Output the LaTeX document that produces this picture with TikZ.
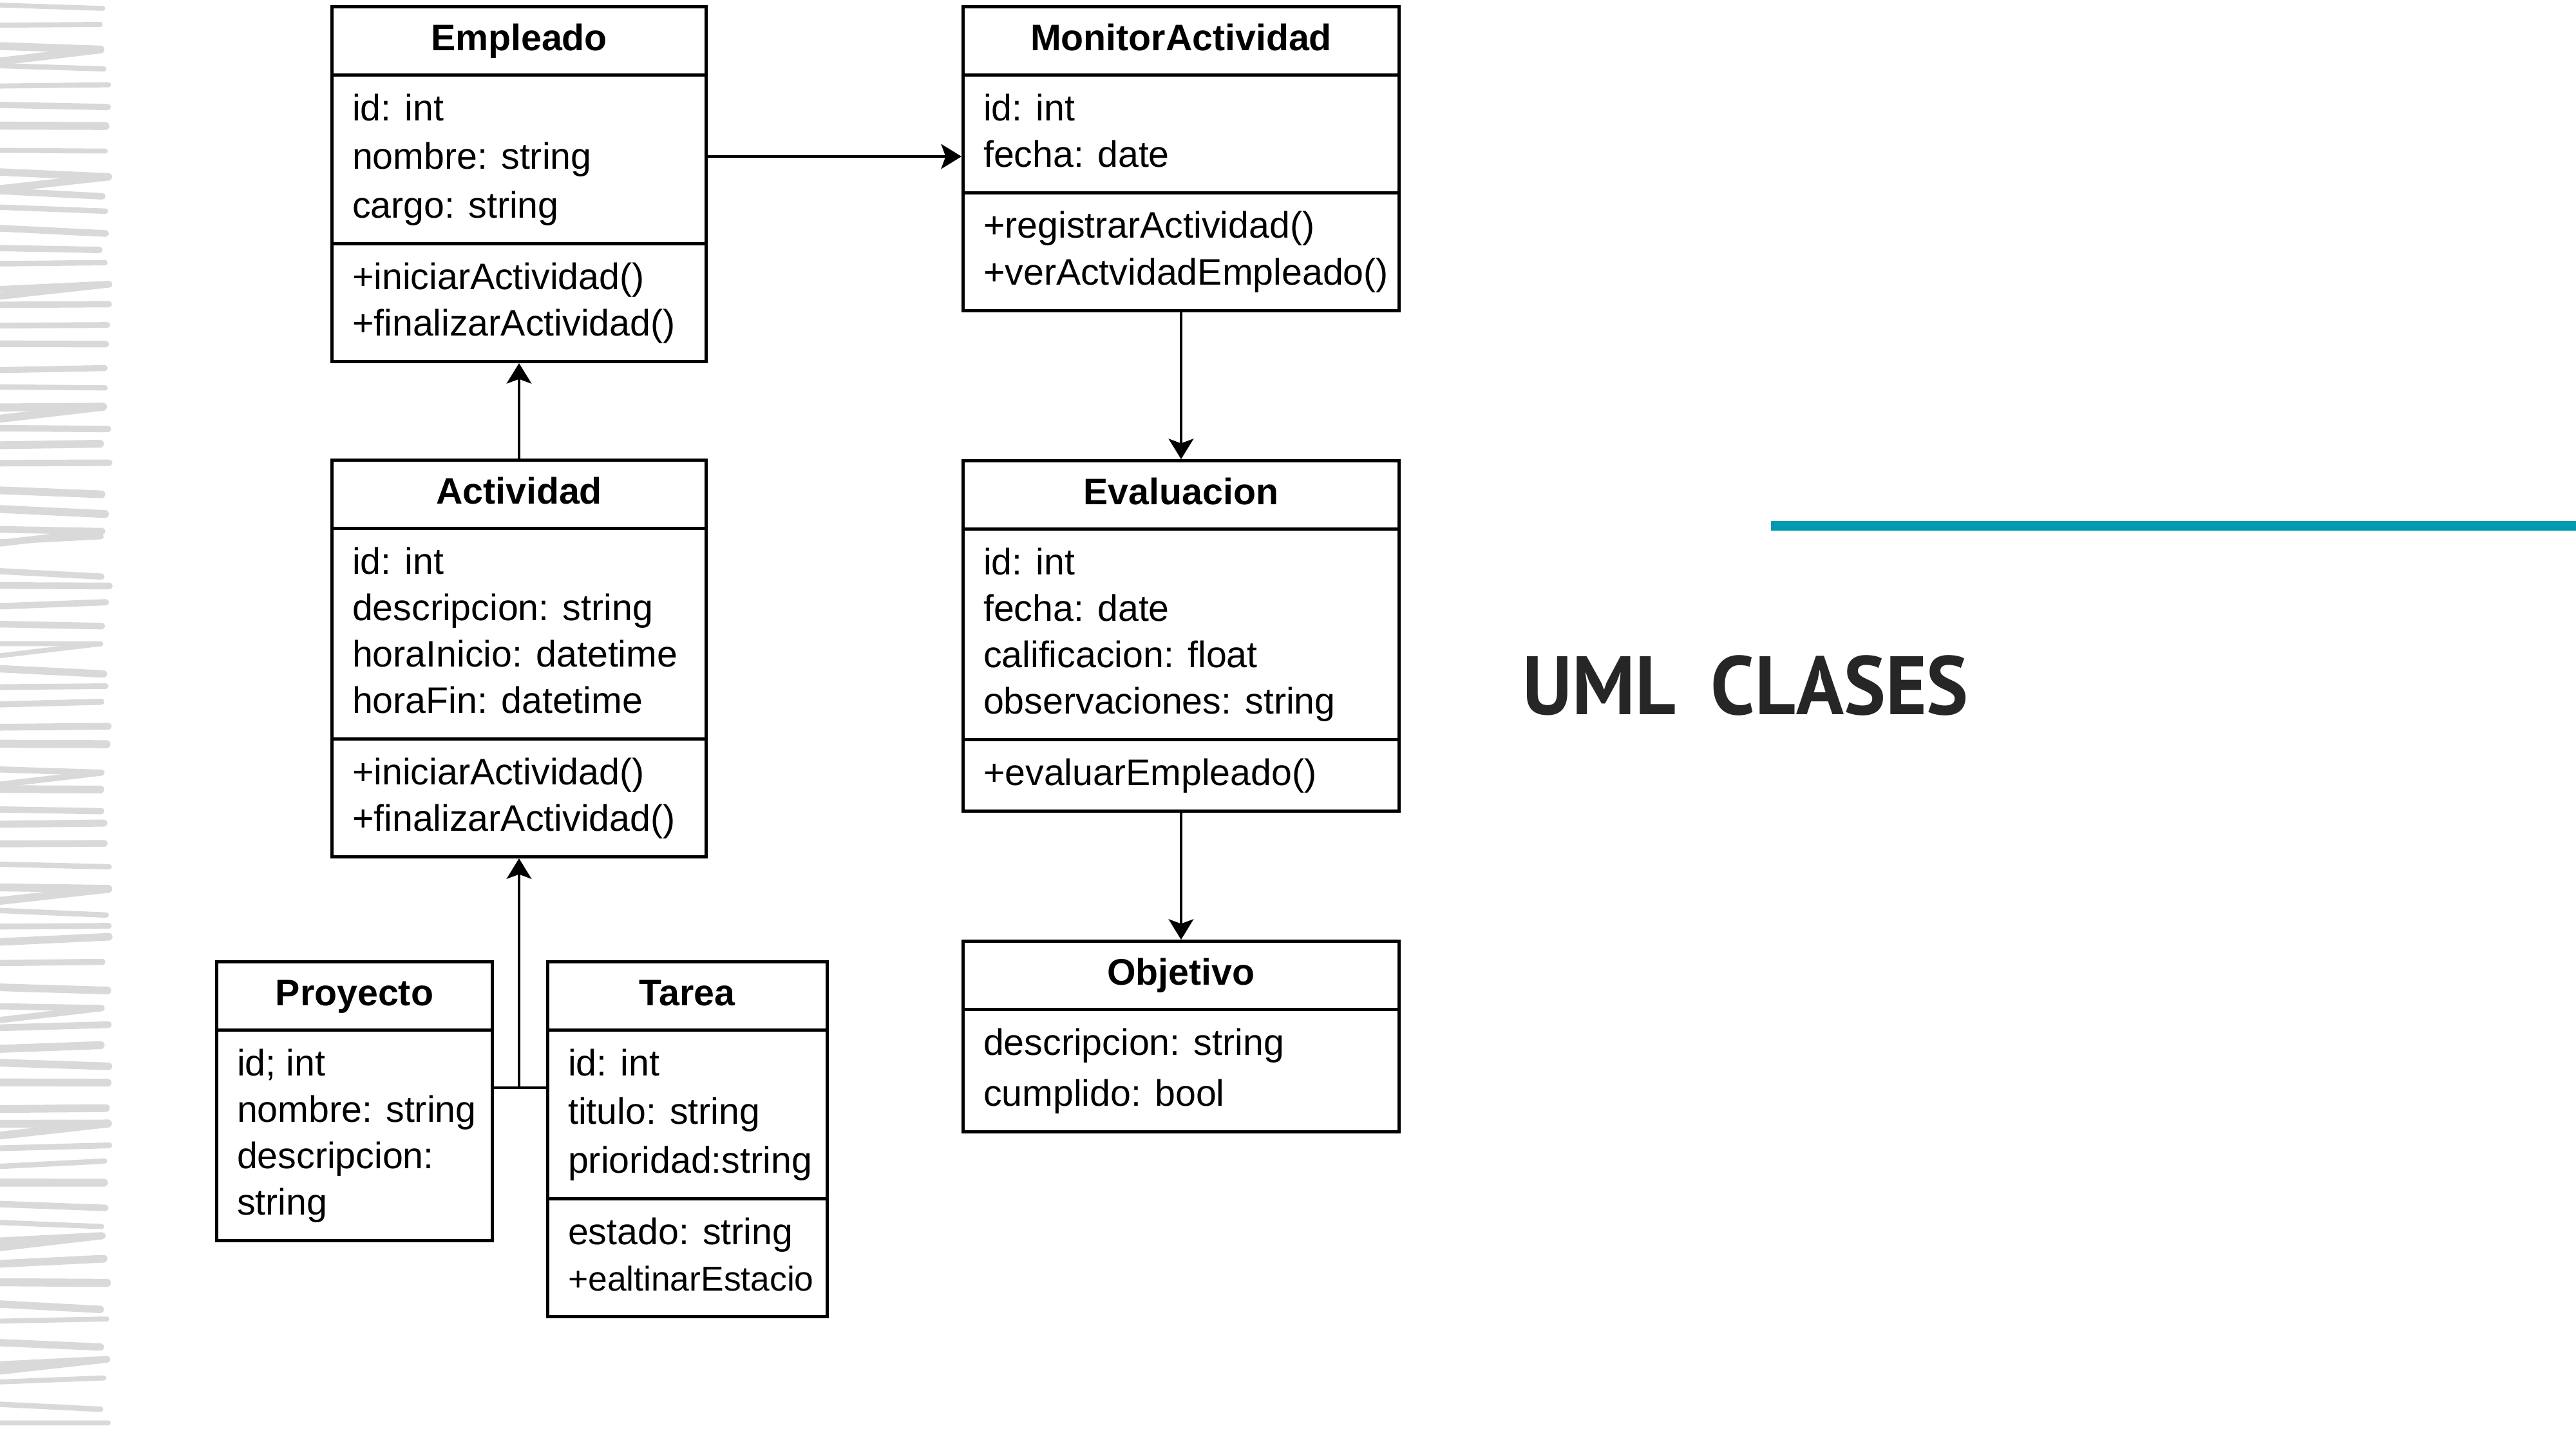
\documentclass[tikz,border=0pt]{standalone}
\usepackage{fontspec}
\setmainfont{Liberation Sans}
\newfontfamily\titlefont{PT Sans}
\usetikzlibrary{shapes.multipart,arrows.meta}

\definecolor{trazo}{RGB}{217,217,217}
\definecolor{barra}{RGB}{0,153,178}
\definecolor{tinta}{RGB}{38,38,38}

\newcommand{\renglon}{\rule[-6pt]{0pt}{20.5pt}}
\newcommand{\titulo}[1]{\rule[-5.5pt]{0pt}{19.3pt}\textbf{#1}}

\tikzset{
  clase/.style={rectangle split, rectangle split parts=3, draw, line width=1.4pt,
    anchor=north west, align=left, rectangle split part align={center,left,left},
    inner xsep=9pt, inner ysep=4.8pt, font=\fontsize{16.3}{20.5}\selectfont},
  flecha/.style={line width=1.1pt, -{Stealth[length=9pt,width=11pt,inset=2pt]}},
  linea/.style={line width=1.1pt}
}

\begin{document}
\begin{tikzpicture}
    \useasboundingbox (0,0) rectangle (40,-22.5);
    \clip (0,0) rectangle (40,-22.5);

    % Brush strokes
    \pgfmathsetseed{17}
    \foreach \k in {0,...,71}{
        \pgfmathsetmacro{\ya}{-0.12-0.31*\k+0.06*rand}
        \pgfmathsetmacro{\yb}{\ya+0.1*rand}
        \pgfmathsetmacro{\xe}{1.62+0.08*rand}
        \pgfmathsetmacro{\lw}{0.1+0.025*rand}
        \pgfmathtruncatemacro{\m}{mod(\k,6)}
        \draw[trazo, line width=\lw cm, line cap=round, line join=round] (-0.3,\ya) -- (\xe,\yb);
        \ifnum\m=2
            \draw[trazo, line width=\lw cm, line cap=round, line join=round] (\xe,\yb) -- (-0.3,\yb-0.22);
        \fi
    }

    % Title
    \fill[barra] (27.5,-8.09) rectangle (40,-8.24);
    \node[anchor=base west, inner sep=0pt, text=tinta,
          font=\titlefont\bfseries\fontsize{36.6}{40}\selectfont,
          xscale=0.95, transform shape] (titulo) at (23.64,-11.10) {UML\hspace{0.45em}CLASES};

    % Nodes
    \node[clase, minimum width=5.81cm] (emp) at (5.13,-0.08) {\titulo{Empleado}
        \nodepart{two}\renglon id: int\\[1pt]\renglon nombre: string\\[1pt]\renglon cargo: string
        \nodepart{three}\renglon +iniciarActividad()\\\renglon +finalizarActividad()};

    \node[clase, minimum width=6.77cm] (mon) at (14.93,-0.08) {\titulo{MonitorActividad}
        \nodepart{two}\renglon id: int\\\renglon fecha: date
        \nodepart{three}\renglon +registrarActividad()\\\renglon\rlap{+verActvidadEmpleado()}};

    \node[clase, minimum width=5.81cm] (act) at (5.13,-7.12) {\titulo{Actividad}
        \nodepart{two}\renglon id: int\\\renglon descripcion: string\\\renglon horaInicio: datetime\\\renglon horaFin: datetime
        \nodepart{three}\renglon +iniciarActividad()\\\renglon +finalizarActividad()};

    \node[clase, minimum width=6.77cm] (eva) at (14.93,-7.13) {\titulo{Evaluacion}
        \nodepart{two}\renglon id: int\\\renglon fecha: date\\\renglon calificacion: float\\\renglon observaciones: string
        \nodepart{three}\renglon +evaluarEmpleado()};

    \node[clase, rectangle split parts=2, minimum width=6.77cm] (obj) at (14.93,-14.59) {\titulo{Objetivo}
        \nodepart{two}\renglon descripcion: string\\[2pt]\renglon cumplido: bool};

    \node[clase, rectangle split parts=2, minimum width=4.28cm] (pro) at (3.34,-14.91) {\titulo{Proyecto}
        \nodepart{two}\renglon id; int\\\renglon\rlap{nombre: string}\\\renglon descripcion:\\\renglon string};

    \node[clase, minimum width=4.34cm] (tar) at (8.48,-14.91) {\titulo{Tarea}
        \nodepart{two}\renglon id: int\\[1pt]\renglon titulo: string\\[1pt]\renglon\rlap{prioridad:string}
        \nodepart{three}\renglon estado: string\\\renglon\rlap{\fontsize{15.2}{20.5}\selectfont +ealtinarEstacio}};

    % Lines
    \coordinate (c1) at (0,-2.43);
    \coordinate (c2) at (0,-16.89);
    \draw[flecha] (emp.east |- c1) -- (mon.west |- c1);
    \draw[flecha] (act.north) -- (emp.south);
    \draw[flecha] (mon.south) -- (eva.north);
    \draw[flecha] (eva.south) -- (obj.north);
    \draw[linea] (pro.east |- c2) -- (tar.west |- c2);
    \draw[flecha] (act.south |- c2) -- (act.south);

\end{tikzpicture}
\end{document}
